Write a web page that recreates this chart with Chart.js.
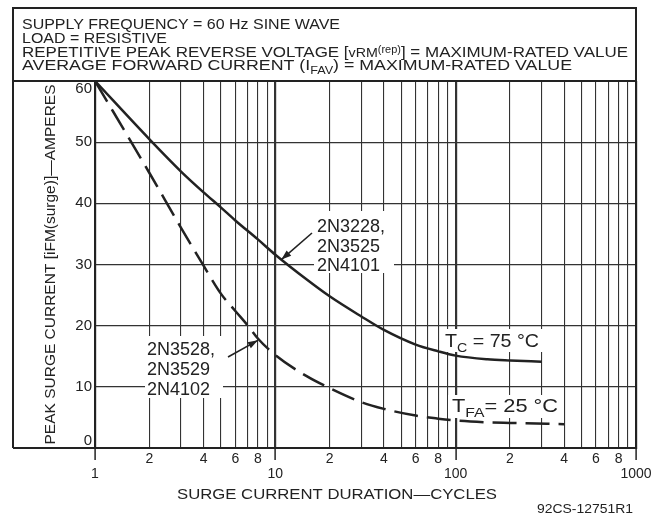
<!DOCTYPE html>
<html><head><meta charset="utf-8">
<script src="https://cdn.jsdelivr.net/npm/chart.js@4/dist/chart.umd.min.js"></script>
<style>html,body{margin:0;padding:0;background:#fff}#wrap{width:651px;height:520px;position:relative}</style>
</head><body><div id="wrap"><canvas id="c" width="651" height="520"></canvas></div>
<script>
// ---- data ----
const durationTc  = [1, 2, 3, 4, 5, 6, 8, 10, 15, 20, 30, 40, 60, 80, 100, 150, 200, 300];
const currentTc   = [60, 50.5, 45.2, 41.8, 39.3, 37.2, 34.1, 31.6, 27.5, 24.8, 21.5, 19.3, 16.9, 15.8, 15.1, 14.5, 14.3, 14.1];
const durationTfa = [1, 2, 3, 4, 5, 6, 7, 8, 10, 15, 20, 30, 40, 60, 80, 100, 150, 200, 400];
const currentTfa  = [60, 45, 36, 29.8, 25.2, 22.4, 20.1, 17.9, 15.2, 11.7, 9.8, 7.5, 6.4, 5.3, 4.8, 4.5, 4.2, 4.1, 3.9];
const xMajorLabels = [1, 10, 100, 1000];
const xMinorLabels = [2, 4, 6, 8];
const xGridMantissas = [1, 2, 3, 4, 5, 6, 7, 8, 9];
const yLabels = [0, 10, 20, 30, 40, 50, 60];
const headerLines = [
  [{t: 'SUPPLY FREQUENCY = 60 Hz SINE WAVE'}],
  [{t: 'LOAD = RESISTIVE'}],
  [{t: 'REPETITIVE PEAK REVERSE VOLTAGE ['}, {t: 'vRM', s: 13}, {t: '(rep)', s: 10, dy: -4}, {t: '] = MAXIMUM-RATED VALUE'}],
  [{t: 'AVERAGE FORWARD CURRENT ('}, {t: 'I'}, {t: 'FAV', s: 11, dy: 4}, {t: ') = MAXIMUM-RATED VALUE'}]
];
const labelTc  = ['2N3228,', '2N3525', '2N4101'];
const labelTfa = ['2N3528,', '2N3529', '2N4102'];
const arrowTipTc  = [10.8, 30.8];
const arrowTipTfa = [8.0, 17.6];

const FONT = '"Liberation Sans", Arial, sans-serif';
const INK = '#222';

function toXY(xs, ys) { return xs.map((x, i) => ({x: x, y: ys[i]})); }

function drawRich(ctx, x, baseline, segs, size, targetW, align) {
  let w = 0;
  for (const s of segs) { ctx.font = (s.s || size) + 'px ' + FONT; w += ctx.measureText(s.t).width; }
  const f = targetW ? targetW / w : 1;
  const tw = w * f;
  let x0 = x;
  if (align === 'center') x0 = x - tw / 2;
  ctx.save();
  ctx.translate(x0, baseline);
  ctx.scale(f, 1);
  ctx.fillStyle = INK;
  ctx.textAlign = 'left';
  ctx.textBaseline = 'alphabetic';
  let cx = 0;
  for (const s of segs) {
    ctx.font = (s.s || size) + 'px ' + FONT;
    ctx.fillText(s.t, cx, s.dy || 0);
    cx += ctx.measureText(s.t).width;
  }
  ctx.restore();
}

function arrow(ctx, x1, y1, x2, y2) {
  ctx.save();
  ctx.strokeStyle = INK; ctx.fillStyle = INK; ctx.lineWidth = 1.6;
  ctx.beginPath(); ctx.moveTo(x1, y1); ctx.lineTo(x2, y2); ctx.stroke();
  const a = Math.atan2(y2 - y1, x2 - x1), L = 10, W = 3.5;
  ctx.beginPath();
  ctx.moveTo(x2, y2);
  ctx.lineTo(x2 - L * Math.cos(a) + W * Math.sin(a), y2 - L * Math.sin(a) - W * Math.cos(a));
  ctx.lineTo(x2 - L * Math.cos(a) - W * Math.sin(a), y2 - L * Math.sin(a) + W * Math.cos(a));
  ctx.closePath(); ctx.fill();
  ctx.restore();
}

const decorPlugin = {
  id: 'decor',
  beforeDatasetsDraw(chart) {
    const ctx = chart.ctx;
    const xs = chart.scales.x, ys = chart.scales.y;
    ctx.save();
    ctx.fillStyle = '#fff';
    // white backgrounds behind in-plot labels (hide grid)
    ctx.fillRect(314, 211, 80, 62);
    ctx.fillRect(145, 336, 78, 62);
    ctx.fillRect(441, 329, 102, 23);
    ctx.fillRect(448, 395, 114, 23);
    ctx.restore();
    // part-number labels
    labelTc.forEach((t, i) => drawRich(ctx, 317, 232 + i * 19.5, [{t: t}], 18));
    labelTfa.forEach((t, i) => drawRich(ctx, 147, 355 + i * 20, [{t: t}], 18));
    // temperature labels
    drawRich(ctx, 445, 347, [{t: 'T'}, {t: 'C', s: 13, dy: 5}, {t: ' = 75 °C'}], 18, 94);
    drawRich(ctx, 452, 412, [{t: 'T'}, {t: 'FA', s: 13, dy: 5}, {t: '= 25 °C'}], 18, 106);
    // arrows
    arrow(ctx, 312, 233, xs.getPixelForValue(arrowTipTc[0]), ys.getPixelForValue(arrowTipTc[1]));
    arrow(ctx, 228, 357, xs.getPixelForValue(arrowTipTfa[0]), ys.getPixelForValue(arrowTipTfa[1]));
  },
  afterDraw(chart) {
    const ctx = chart.ctx;
    const a = chart.chartArea;
    ctx.save();
    ctx.strokeStyle = INK; ctx.lineWidth = 2;
    // outer frame and header box
    ctx.beginPath();
    ctx.moveTo(13, a.bottom); ctx.lineTo(13, 8); ctx.lineTo(a.right, 8); ctx.lineTo(a.right, a.bottom);
    ctx.moveTo(13, a.top); ctx.lineTo(a.right, a.top);
    ctx.moveTo(13, a.bottom); ctx.lineTo(a.left, a.bottom);
    ctx.stroke();
    ctx.restore();
    // header text
    const targets = [318, 145, 606, 550];
    const bases = [29, 43, 56.5, 69.5];
    headerLines.forEach((segs, i) => drawRich(ctx, 22, bases[i], segs, 15.5, targets[i]));
    // axis title and figure code
    drawRich(ctx, 337, 498.5, [{t: 'SURGE CURRENT DURATION\u2014CYCLES'}], 15, 320, 'center');
    drawRich(ctx, 585, 513, [{t: '92CS-12751R1'}], 13, 96, 'center');
  }
};

function isDecade(v) { const l = Math.log10(v); return Math.abs(l - Math.round(l)) < 1e-9; }

new Chart(document.getElementById('c'), {
  type: 'line',
  data: {
    datasets: [
      {label: 'TC = 75 °C', data: toXY(durationTc, currentTc), borderColor: INK, borderWidth: 2.5,
       pointRadius: 0, cubicInterpolationMode: 'monotone', fill: false},
      {label: 'TFA = 25 °C', data: toXY(durationTfa, currentTfa), borderColor: INK, borderWidth: 2.5,
       borderDash: [24, 9], pointRadius: 0, cubicInterpolationMode: 'monotone', fill: false}
    ]
  },
  options: {
    responsive: false,
    animation: false,
    layout: {padding: {top: 81, right: 15, left: 0, bottom: 0}},
    plugins: {legend: {display: false}, tooltip: {enabled: false}, title: {display: false}},
    scales: {
      x: {
        type: 'logarithmic', min: 1, max: 1000,
        afterBuildTicks(s) {
          const t = [];
          for (const dec of [1, 10, 100]) for (const m of xGridMantissas) t.push({value: m * dec});
          t.push({value: 1000});
          s.ticks = t;
        },
        afterFit(s) { s.height = 72; s.paddingLeft = 0; s.paddingRight = 0; },
        border: {display: true, color: INK, width: 2},
        grid: {
          color: '#333',
          lineWidth: c => (c.tick && isDecade(c.tick.value)) ? 2.2 : 1.1,
          tickColor: c => (c.tick && isDecade(c.tick.value)) ? INK : 'rgba(0,0,0,0)',
          tickLength: 12, tickWidth: 1.5
        },
        ticks: {
          autoSkip: false, maxRotation: 0, minRotation: 0, padding: -8,
          color: INK, font: {family: FONT, size: 14, lineHeight: '15px'},
          callback(v) {
            if (xMajorLabels.includes(v)) return ['', String(v)];
            const e = Math.floor(Math.log10(v) + 1e-9);
            const m = Math.round(v / Math.pow(10, e));
            return xMinorLabels.includes(m) ? String(m) : '';
          }
        }
      },
      y: {
        type: 'linear', min: 0, max: 60,
        afterFit(s) { s.width = 95; s.paddingTop = 0; s.paddingBottom = 0; },
        border: {display: true, color: INK, width: 2},
        grid: {color: '#333', lineWidth: 1.2, drawTicks: false},
        ticks: {
          stepSize: 5, padding: 3, color: INK,
          font: {family: FONT, size: 15, lineHeight: '15px'},
          callback(v) {
            if (!yLabels.includes(v)) return '';
            if (v === 60) return ['', '60'];
            if (v === 0) return ['0', ''];
            return String(v);
          }
        },
        title: {
          display: true, text: 'PEAK SURGE CURRENT [iFM(surge)]\u2014AMPERES',
          color: INK, font: {family: FONT, size: 15.5}, padding: {top: 41, bottom: 0}
        }
      }
    }
  },
  plugins: [decorPlugin]
});
</script></body></html>
